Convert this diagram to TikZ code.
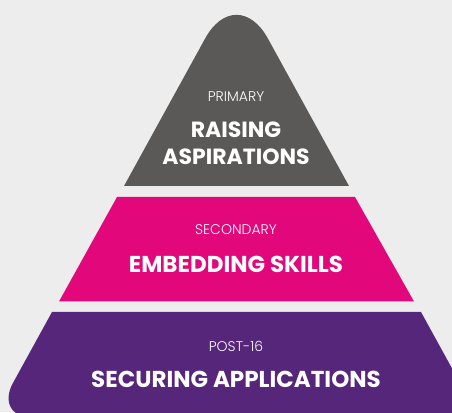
\documentclass[tikz,border=0pt]{standalone}
\usepackage{fontspec}
\setmainfont{Poppins}
\newfontfamily\lightfont{Poppins}[UprightFont=* Light]
\definecolor{pagebg}{HTML}{EDEDED}
\definecolor{tiergray}{HTML}{5A5957}
\definecolor{tiermagenta}{HTML}{E2077B}
\definecolor{tierpurple}{HTML}{56267A}

\begin{document}
\begin{tikzpicture}[x=1pt,y=1pt,
    tierlabel/.style={anchor=base,text=white,inner sep=0pt,
        font=\lightfont\fontsize{14}{16}\selectfont},
    tiertitle/.style={anchor=base,text=white,inner sep=0pt,
        font=\bfseries\fontsize{23}{26}\selectfont}]
    \fill[pagebg] (0,0) rectangle (452,412);
    \useasboundingbox (0,0) rectangle (452,412);
    \begin{scope}
        \clip (0,0) rectangle (452,412);
        % tiers, top to bottom
        \fill[tiergray] (124,226) [rounded corners=65pt] -- (236.5,430.5)
            [sharp corners] -- (349,226) -- cycle;
        \fill[tiermagenta] (59,110.5) -- (117,215) -- (355,215)
            -- (414,110.5) -- cycle;
        \fill[tierpurple] (52,100) -- (421,100) -- (479.3,-6)
            [rounded corners=40pt] -- (-6.3,-6) [sharp corners] -- cycle;
    \end{scope}
    % labels
    \node[tierlabel] (primary) at (236,310) {PRIMARY};
    \node[tiertitle, font=\bfseries\fontsize{22}{25}\selectfont] (raising) at (236,274) {RAISING};
    \node[tiertitle, font=\bfseries\fontsize{22}{25}\selectfont] (aspirations) at (236,247) {ASPIRATIONS};
    \node[tierlabel] (secondary) at (236,177) {SECONDARY};
    \node[tiertitle] (embedding) at (236,139) {EMBEDDING SKILLS};
    \node[tierlabel] (post16) at (236,60) {POST-16};
    \node[tiertitle] (securing) at (236,24) {SECURING APPLICATIONS};
\end{tikzpicture}
\end{document}
